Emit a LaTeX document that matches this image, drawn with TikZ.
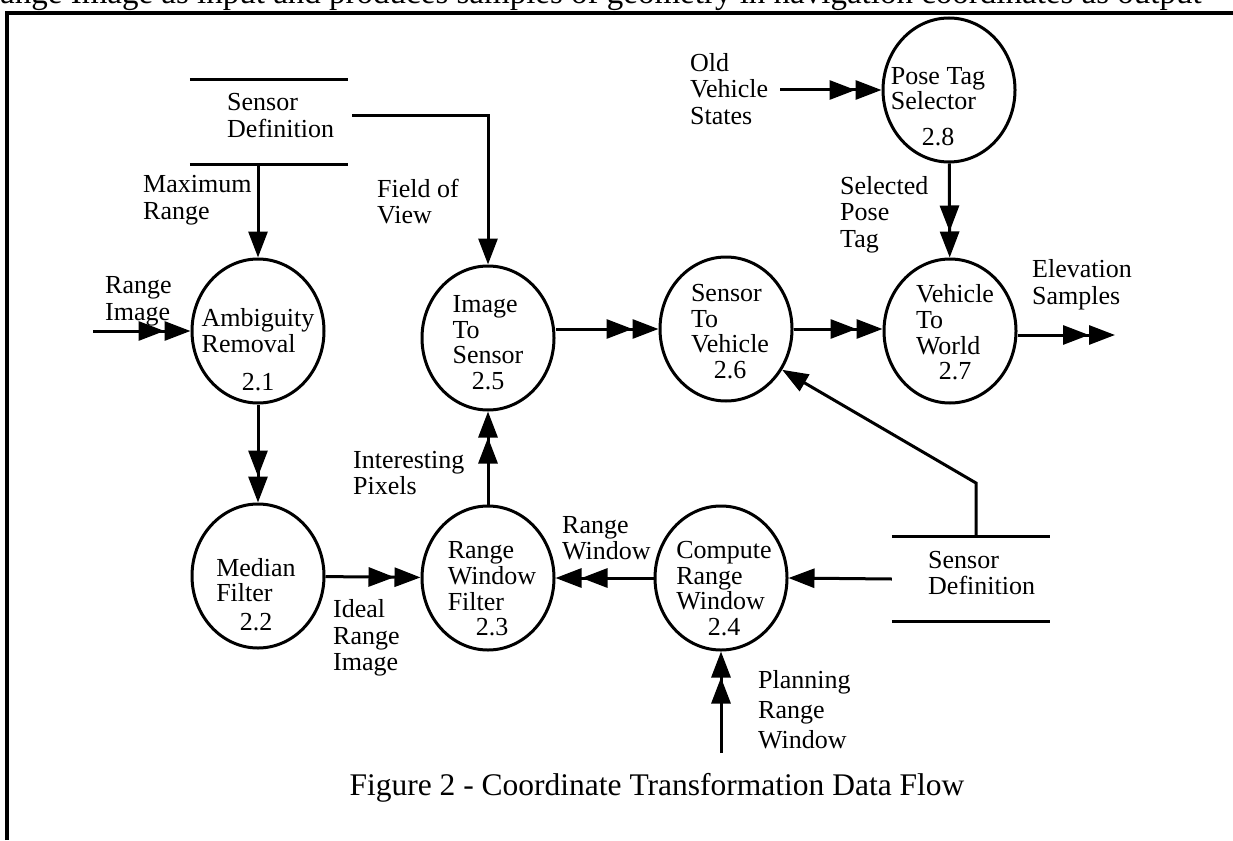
\documentclass[tikz,border=0pt]{standalone}
\usepackage{fontspec}
\setmainfont{Liberation Serif}
\usetikzlibrary{shapes.geometric,arrows.meta}
\newcommand{\ptext}[3][0pt]{\begin{tabular}{@{}l@{}}#2\\[#1]\multicolumn{1}{@{}c@{}}{#3}\end{tabular}}
\begin{document}
\begin{tikzpicture}[x=1pt,y=-1pt,
  every node/.style={font=\fontsize{26}{26.5}\selectfont},
  proc/.style={draw, ellipse, line width=3pt, minimum width=132pt, minimum height=144pt, inner sep=0pt},
  store/.style={rectangle, minimum width=158pt, minimum height=84pt, inner sep=0pt},
  lbl/.style={anchor=west, align=left, inner sep=0pt},
  ptxt/.style={inner sep=0pt, font=\fontsize{26}{25.5}\selectfont},
  flow/.style={line width=3pt},
  arr/.style={flow, -{Triangle[length=26pt,width=19pt]}},
  darr/.style={flow, -{Triangle[length=26pt,width=19pt]Triangle[length=26pt,width=19pt]}}]
\useasboundingbox (0,0) rectangle (1233,840);
% clipped line of body text above the frame
\begin{scope}
\clip (0,0) rectangle (1233,840);
\node[anchor=base west, inner sep=0pt, font=\fontsize{33}{34}\selectfont] (body) at (-22,4) {Range Image as input and produces samples of geometry in navigation coordinates as output};
\end{scope}
% frame
\draw[line width=3.4pt] (7,840) -- (7,13) -- (1233,13);

% processes
\node[proc] (e21) at (258,331) {};
\node[proc] (e22) at (258,576) {};
\node[proc] (e23) at (488,578) {};
\node[proc] (e24) at (721,578) {};
\node[proc] (e25) at (488,338) {};
\node[proc] (e26) at (726,329) {};
\node[proc] (e27) at (950,331) {};
\node[proc] (e28) at (949,90) {};

\node[ptxt] (t21) at (258,353) {\ptext[12.5pt]{Ambiguity\\Removal}{2.1}};
\node[ptxt] (t22) at (256,598) {\ptext[3pt]{Median\\Filter}{2.2}};
\node[ptxt] (t23) at (492,592) {\ptext{Range\\Window\\Filter}{2.3}};
\node[ptxt] (t24) at (724,592) {\ptext{Compute\\Range\\Window}{2.4}};
\node[ptxt] (t25) at (488,346) {\ptext{Image\\To\\Sensor}{2.5}};
\node[ptxt] (t26) at (730,335) {\ptext{Sensor\\To\\Vehicle}{2.6}};
\node[ptxt] (t27) at (955,336) {\ptext{Vehicle\\To\\World}{2.7}};
\node[ptxt] (t28) at (938,110) {\ptext[10.5pt]{Pose Tag\\Selector}{2.8}};

% data stores
\node[store] (sd1) at (269,122) {};
\node[store] (sd2) at (971,579) {};
\draw[flow] (sd1.north west) -- (sd1.north east);
\draw[flow] (sd1.south west) -- (sd1.south east);
\draw[flow] (sd2.north west) -- (sd2.north east);
\draw[flow] (sd2.south west) -- (sd2.south east);
\node[lbl] (sdt1) at (227,115.5) {Sensor\\Definition};
\node[lbl] (sdt2) at (928,573) {Sensor\\Definition};

% free ends
\coordinate (in21) at (93,331);
\coordinate (plan) at (721,753);
\coordinate (out) at (1115,335);
\coordinate (old) at (780,90);
\coordinate (bend2) at (976,483);

% flows
\draw[darr] (in21) -- (e21.west);
\draw[arr] (sd1.south -| e21.north) -- (e21.north);
\draw[darr] (e21.south) -- (e22.north);
\draw[arr] ([xshift=4pt,yshift=6pt]sd1.east) -| (e25.north);
\draw[darr] (e22) -- (e23);
\draw[darr] (e23.north) -- (e25.south);
\draw[darr] (e24) -- (e23);
\draw[arr] (sd2.west) -- (e24.east);
\draw[darr] (plan) -- (e24.south);
\draw[darr] (e25.east |- e26.west) -- (e26.west);
\draw[darr] (e26) -- (e27.west |- e26.east);
\draw[arr] (sd2.north -| bend2) -- (bend2) -- (e26.-36);
\draw[darr] (e27.east |- out) -- (out);
\draw[darr] (old) -- (e28.west);
\draw[darr] (e28) -- (e27);

% labels
\node[lbl] (lmax) at (143,200) {Maximum\\Range};
\node[lbl] (lfov) at (377,201.5) {Field of\\View};
\node[lbl] (lri) at (105,301.5) {Range\\Image};
\node[lbl] (lip) at (353,473) {Interesting\\Pixels};
\node[lbl] (lideal) at (333,638) {Ideal\\Range\\Image};
\node[lbl] (lrw) at (562,538) {Range\\Window};
\node[lbl, font=\fontsize{26}{30}\selectfont] (lplan) at (758,710) {Planning\\Range\\Window};
\node[lbl] (lold) at (690,89) {Old\\Vehicle\\States};
\node[lbl] (lsel) at (840,214.5) {Selected\\Pose\\Tag};
\node[lbl] (lelev) at (1032,284.5) {Elevation\\Samples};

% caption
\node[inner sep=0pt, font=\fontsize{31.5}{32}\selectfont] (cap) at (657,788) {Figure 2 - Coordinate Transformation Data Flow};
\end{tikzpicture}
\end{document}
